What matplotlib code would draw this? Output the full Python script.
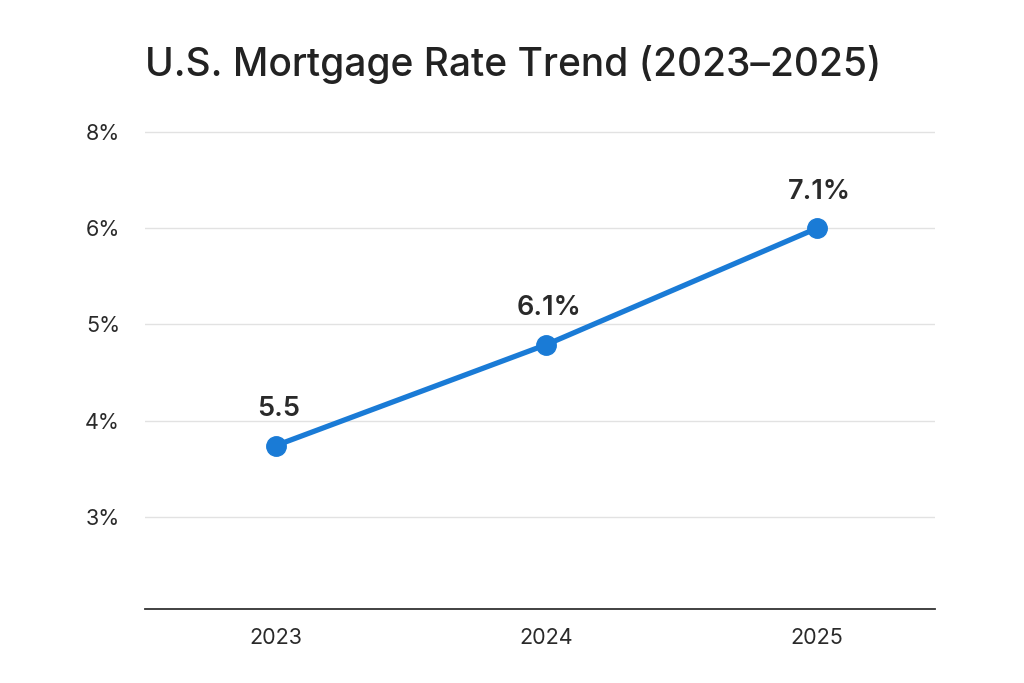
import matplotlib.pyplot as plt

plt.rcParams['font.family'] = ['Inter', 'DejaVu Sans']

years = ['2023', '2024', '2025']
rates = [3.74, 4.79, 6.0]          # plotted positions
point_labels = ['5.5', '6.1%', '7.1%']
ytick_pos = [3, 4, 5, 6, 7]
ytick_labels = ['3%', '4%', '5%', '6%', '8%']

fig = plt.figure(figsize=(10.24, 6.83), dpi=100)
ax = fig.add_axes([0.1416, 0.1083, 0.7715, 0.7125])

x = list(range(len(years)))
ax.plot(x, rates, color='#1a7bd6', linewidth=3.8, marker='o', markersize=14,
        solid_capstyle='round', zorder=3, clip_on=False)

for xi, yi, lab in zip(x, rates, point_labels):
    ax.annotate(lab, (xi, yi), xytext=(2, 17), textcoords='offset points',
                ha='center', va='bottom', fontsize=19.5, fontweight='semibold',
                color='#2a2a2a')

ax.set_xlim(-0.484, 2.436)
ax.set_ylim(2.04, 7.1)
ax.set_xticks(x)
ax.set_xticklabels(years)
ax.set_yticks(ytick_pos)
ax.set_yticklabels(ytick_labels)
ax.tick_params(axis='both', length=0, labelsize=15.5, colors='#2a2a2a')
ax.tick_params(axis='y', pad=18)
ax.tick_params(axis='x', pad=14)

ax.grid(axis='y', color='#e2e2e2', linewidth=1)
ax.set_axisbelow(True)
for s in ['top', 'right', 'left']:
    ax.spines[s].set_visible(False)
ax.spines['bottom'].set_color('#333333')
ax.spines['bottom'].set_linewidth(1.3)

fig.text(0.1416, 0.905, 'U.S. Mortgage Rate Trend (2023–2025)', fontsize=28,
         fontweight='medium', color='#222222', ha='left', va='center')

fig.savefig('out.png', dpi=100, facecolor='white')
